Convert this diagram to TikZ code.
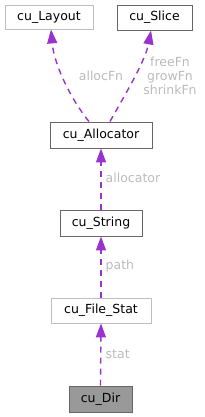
\documentclass[tikz,border=0pt]{standalone}
\usepackage{fontspec}
\setmainfont{DejaVu Sans}
\usetikzlibrary{arrows.meta}
\definecolor{edgecol}{HTML}{9A32CD}
\definecolor{lblcol}{HTML}{BBBBBB}
\definecolor{darkb}{HTML}{666666}
\definecolor{lightb}{HTML}{BFBFBF}
\definecolor{dirfill}{HTML}{999999}
\tikzset{
  cls/.style={draw=darkb, line width=0.9pt, fill=white, inner sep=0pt, font=\fontsize{12.5}{15}\selectfont},
  lightcls/.style={cls, draw=lightb},
  rel/.style={draw=edgecol, line width=1.4pt, dash pattern=on 6pt off 5pt, -{Triangle[length=14pt,width=10pt]}},
  lbl/.style={text=lblcol, font=\fontsize{12.5}{14}\selectfont, inner sep=0pt, align=center},
}
\begin{document}
\begin{tikzpicture}[x=1pt,y=-1pt]
\useasboundingbox (0,0) rectangle (205,417);
\node[lightcls, minimum width=88pt, minimum height=24pt] (layout) at (49,17) {cu\_Layout};
\node[cls, minimum width=75pt, minimum height=25pt] (slice) at (154.5,17.5) {cu\_Slice};
\node[cls, minimum width=102pt, minimum height=26pt] (alloc) at (101,135) {cu\_Allocator};
\node[cls, minimum width=82pt, minimum height=26pt] (string) at (101,223) {cu\_String};
\node[lightcls, minimum width=100pt, minimum height=25pt] (fstat) at (101,310.5) {cu\_File\_Stat};
\node[cls, fill=dirfill, minimum width=63pt, minimum height=26pt] (dir) at (100.5,399) {cu\_Dir};

\draw[rel] ([xshift=-12pt]alloc.north) .. controls +(-18,-22) and +(3,35) .. ([xshift=2pt]layout.south);
\draw[rel] ([xshift=9pt]alloc.north) .. controls +(12,-22) and +(-6,32) .. ([xshift=-3.5pt]slice.south);
\draw[rel] (string.north) -- (alloc.south);
\draw[rel] (fstat.north) -- (string.south);
\draw[rel] (dir.north) -- (fstat.south);

\node[lbl] (lalloc) at (101,76) {allocFn};
\node[lbl] (lslice) at (170,76) {freeFn\\growFn\\shrinkFn};
\node[lbl, anchor=west] (lallocator) at (105.5,178) {allocator};
\node[lbl, anchor=west] (lpath) at (105.5,266) {path};
\node[lbl, anchor=west] (lstat) at (105.5,354) {stat};
\end{tikzpicture}
\end{document}
